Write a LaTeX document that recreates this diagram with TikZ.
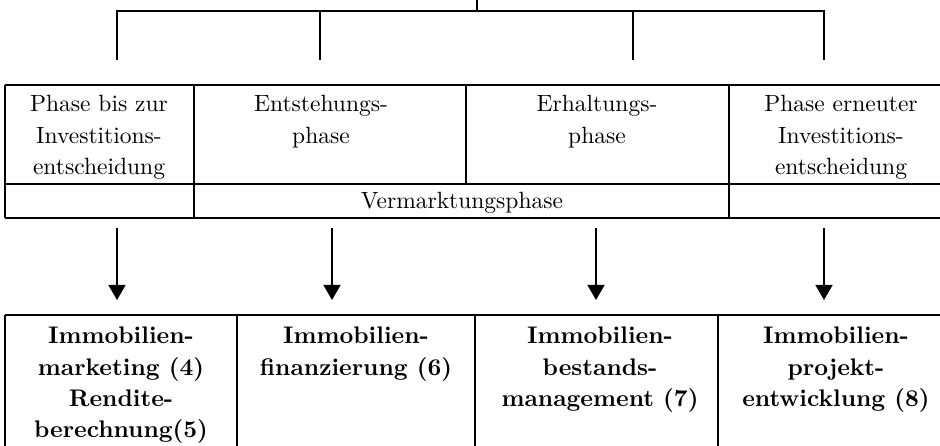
\documentclass[tikz,border=0pt]{standalone}
\usepackage{fontspec}
\setmainfont{lmroman10}[Extension=.otf, UprightFont=*-regular, BoldFont=*-bold, ItalicFont=*-italic]
\usetikzlibrary{arrows.meta}
\tikzset{
  ln/.style={line width=1.6pt, line cap=butt},
  cell/.style={anchor=north, inner sep=0pt, align=center, font=\fontsize{23.5}{31.5}\selectfont},
  bcell/.style={anchor=north, inner sep=0pt, align=center, font=\fontsize{24}{31.3}\selectfont\bfseries},
  arr/.style={line width=1.4pt, -{Triangle[width=17pt,length=15pt]}}
}
\begin{document}
\begin{tikzpicture}[x=1pt,y=-1pt]
\useasboundingbox (0,0) rectangle (940,446);
% top bracket
\coordinate (root) at (477,0);
\coordinate (j) at (477,11);
\coordinate (h1) at (117,11);
\coordinate (h2) at (320,11);
\coordinate (h3) at (633,11);
\coordinate (h4) at (824,11);
\coordinate (s1) at (117,60);
\coordinate (s2) at (320,60);
\coordinate (s3) at (633,60);
\coordinate (s4) at (824,60);
\draw[ln] (root) -- (j);
\draw[ln] (s1) -- (h1) -- (h4) -- (s4);
\draw[ln] (h2) -- (s2);
\draw[ln] (h3) -- (s3);
% top table
\draw[ln] (5,85) -- (941,85);
\draw[ln] (5,184) -- (941,184);
\draw[ln] (5,218) -- (941,218);
\draw[ln] (5,85) -- (5,218);
\draw[ln] (194,85) -- (194,218);
\draw[ln] (466,85) -- (466,184);
\draw[ln] (729,85) -- (729,218);
\node[cell] (c1) at (99,95) {Phase bis zur\\Investitions-\\entscheidung};
\node[cell] (c2) at (321,95) {Entstehungs-\\phase};
\node[cell] (c3) at (597,95) {Erhaltungs-\\phase};
\node[cell] (c4) at (841,95) {Phase erneuter\\Investitions-\\entscheidung};
\node[anchor=base, inner sep=0pt, font=\fontsize{23.5}{31.5}\selectfont] (vm) at (462,209) {Vermarktungsphase};
% arrows
\coordinate (a1s) at (117,228); \coordinate (a1e) at (117,300);
\coordinate (a2s) at (332,228); \coordinate (a2e) at (332,300);
\coordinate (a3s) at (596,228); \coordinate (a3e) at (596,300);
\coordinate (a4s) at (824,228); \coordinate (a4e) at (824,300);
\draw[arr] (a1s) -- (a1e);
\draw[arr] (a2s) -- (a2e);
\draw[arr] (a3s) -- (a3e);
\draw[arr] (a4s) -- (a4e);
% bottom table
\draw[ln] (5,315) -- (941,315);
\draw[ln] (5,315) -- (5,447);
\draw[ln] (237,315) -- (237,447);
\draw[ln] (475,315) -- (475,447);
\draw[ln] (718,315) -- (718,447);
\node[bcell] (d1) at (121,327) {Immobilien-\\marketing (4)\\Rendite-\\berechnung(5)};
\node[bcell] (d2) at (356,327) {Immobilien-\\finanzierung (6)};
\node[bcell] (d3) at (600,327) {Immobilien-\\bestands-\\management (7)};
\node[bcell] (d4) at (836,327) {Immobilien-\\projekt-\\entwicklung (8)};
\end{tikzpicture}
\end{document}
